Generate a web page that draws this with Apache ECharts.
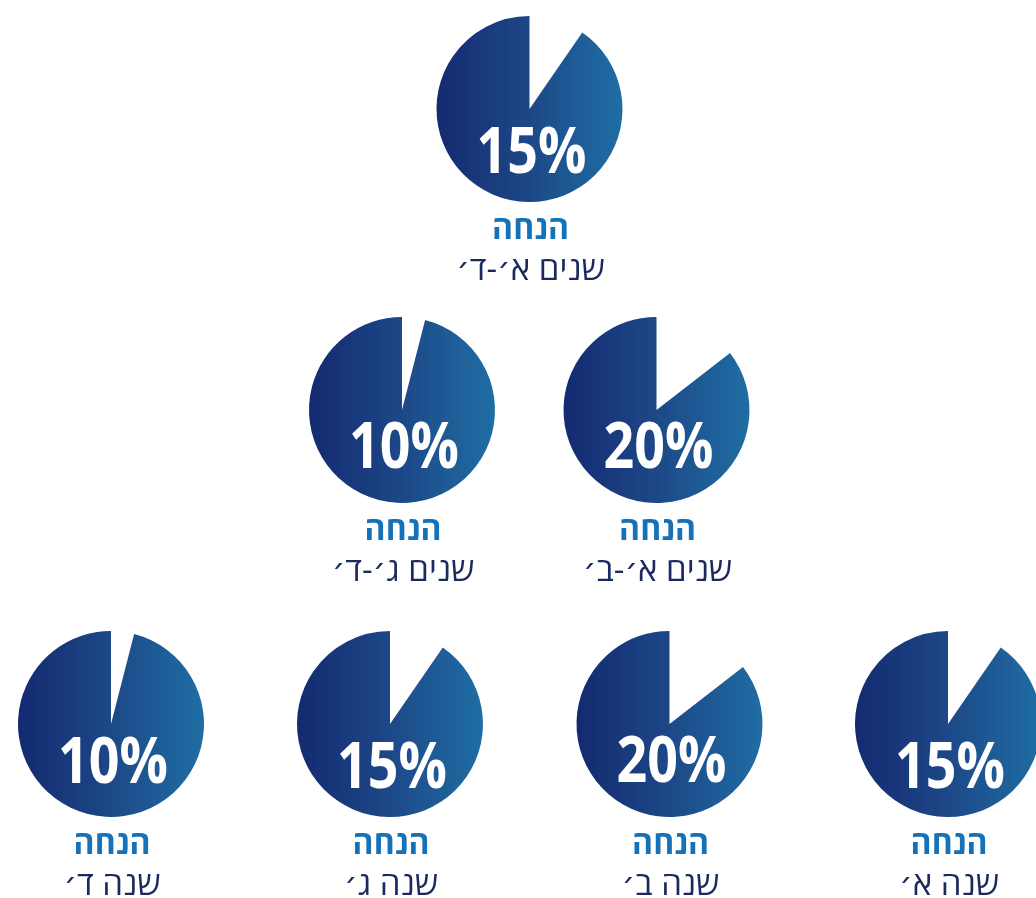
<!DOCTYPE html>
<html>
<head>
<meta charset="utf-8">
<script src="https://cdn.jsdelivr.net/npm/echarts@6/dist/echarts.min.js"></script>
<style>
html,body{margin:0;padding:0;background:#fff;}
#chart{width:1036px;height:898px;}
</style>
</head>
<body>
<div id="chart"></div>
<script>
// ---- data ----
const categories = ['שנים א׳-ד׳', 'שנים א׳-ב׳', 'שנים ג׳-ד׳', 'שנה א׳', 'שנה ב׳', 'שנה ג׳', 'שנה ד׳'];
const discountLabels = [15, 20, 10, 15, 20, 15, 10];          // printed percentage
const wedgeShares = [9.6, 14.5, 4, 9.6, 14.5, 9.6, 4];        // white slice size as drawn (% of circle)
const headline = 'הנחה';

// ---- layout ----
const centers = [[529.5, 109], [656.5, 410], [402, 410], [948, 724], [669.5, 724], [390, 724], [111, 724]];
const pctOffsetY = [46, 40, 40, 46, 40, 46, 41];
const R = 93;

const chart = echarts.init(document.getElementById('chart'), null, {renderer: 'canvas'});

const grad = new echarts.graphic.LinearGradient(0, 0, 1, 0, [
  {offset: 0, color: '#142a70'},
  {offset: 0.5, color: '#1d4888'},
  {offset: 1, color: '#1f6ea3'}
]);

const series = categories.map((c, i) => ({
  type: 'pie',
  silent: true,
  animation: false,
  z: 2,
  center: centers[i],
  radius: [0, R],
  startAngle: 90,
  clockwise: true,
  label: {show: false},
  labelLine: {show: false},
  emphasis: {disabled: true},
  data: [
    {value: wedgeShares[i], name: 'discount', itemStyle: {color: '#ffffff'}},
    {value: 100 - wedgeShares[i], name: 'rest', itemStyle: {color: grad}}
  ]
}));

const font = '"Open Sans", "DejaVu Sans", sans-serif';
const graphics = [];
categories.forEach((c, i) => {
  const [x, y] = centers[i];
  graphics.push({
    type: 'text', x: x + 2, y: y + pctOffsetY[i], scaleX: 0.84, silent: true, z: 100,
    style: {text: discountLabels[i] + '%', fill: '#ffffff', font: 'bold 64px ' + font,
      textAlign: 'center', textVerticalAlign: 'middle'}
  });
  graphics.push({
    type: 'text', x: x + 1, y: y + 121, silent: true, z: 100,
    style: {text: headline, fill: '#1672b8', font: 'bold 32px ' + font,
      textAlign: 'center', textVerticalAlign: 'middle'}
  });
  graphics.push({
    type: 'text', x: x + 1, y: y + 162, silent: true, z: 100,
    style: {text: c, fill: '#1b2a5e', font: '33px ' + font,
      textAlign: 'center', textVerticalAlign: 'middle'}
  });
});

chart.setOption({
  animation: false,
  backgroundColor: '#ffffff',
  series: series,
  graphic: {elements: graphics}
});
</script>
</body>
</html>
